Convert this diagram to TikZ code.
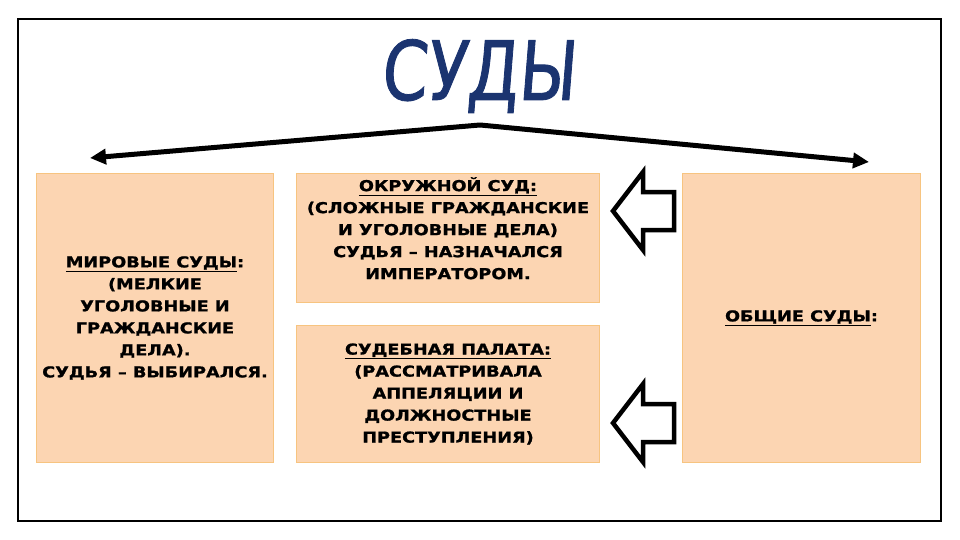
\documentclass[tikz,border=0pt]{standalone}
\usepackage{fontspec}
\setmainfont{DejaVu Sans}
\newfontfamily\boxfont[FakeStretch=1.18,BoldFeatures={FakeBold=1.2}]{DejaVu Sans}
\newfontfamily\titlefont[FakeStretch=0.8,FakeSlant=0.08,FakeBold=1]{DejaVu Sans}
\usetikzlibrary{arrows.meta,positioning}
\definecolor{peach}{RGB}{252,213,178}
\definecolor{peachline}{RGB}{247,196,128}
\definecolor{titleblue}{RGB}{27,52,112}
\tikzset{
  courtbox/.style={draw=peachline, fill=peach, line width=1pt, inner sep=0pt, anchor=north west},
  courttext/.style={align=center, font=\boxfont\bfseries\fontsize{15}{22}\selectfont, inner sep=0pt},
  branch/.style={line width=5pt, -{Triangle[length=16pt,width=15pt]}},
  hollowarrow/.style={draw=black, fill=white, line width=4.5pt, line join=miter}
}
\begin{document}
\begin{tikzpicture}[x=1pt, y=-1pt]
  \useasboundingbox (0,0) rectangle (960,540);
  \draw [line width=1.5pt] (18,19) rectangle (941,521);

  % title and the two branches
  \node [font=\titlefont\fontsize{82}{82}\selectfont, text=titleblue, anchor=base, inner sep=0pt] (title) at (478,100) {СУДЫ};
  \coordinate (peak) at (480,125);
  \coordinate (lend) at (90,158);
  \coordinate (rend) at (869,162);
  \draw [branch] (peak) -- (lend);
  \draw [branch] (peak) -- (rend);

  % boxes
  \node [courtbox, minimum width=237, minimum height=289] (mirovye) at (36,173) {};
  \node [courtbox, minimum width=303, minimum height=129] (okrug) at (296,173) {};
  \node [courtbox, minimum width=303, minimum height=137] (palata) at (296,325) {};
  \node [courtbox, minimum width=238, minimum height=289] (obshchie) at (682,173) {};

  \node [courttext] (mirtext) at (mirovye.center) {\underline{МИРОВЫЕ СУДЫ}:\\(МЕЛКИЕ\\УГОЛОВНЫЕ И\\ГРАЖДАНСКИЕ\\ДЕЛА).\\СУДЬЯ – ВЫБИРАЛСЯ.};
  \node [courttext, anchor=north, below=4pt of okrug.north] (okrtext) {\underline{ОКРУЖНОЙ СУД:}\\(СЛОЖНЫЕ ГРАЖДАНСКИЕ\\И УГОЛОВНЫЕ ДЕЛА)\\СУДЬЯ – НАЗНАЧАЛСЯ\\ИМПЕРАТОРОМ.};
  \node [courttext] (paltext) at (palata.center) {\underline{СУДЕБНАЯ ПАЛАТА:}\\(РАССМАТРИВАЛА\\АППЕЛЯЦИИ И\\ДОЛЖНОСТНЫЕ\\ПРЕСТУПЛЕНИЯ)};
  \node [courttext] (obtext) at (obshchie.center) {\underline{ОБЩИЕ СУДЫ}:};

  % hollow arrows
  \coordinate (tipA) at (613,211);
  \coordinate (tipB) at (613,423);
  \draw [hollowarrow] (tipA) -- ++(30,-39) -- ++(0,20) -- ++(31,0) -- ++(0,38) -- ++(-31,0) -- ++(0,20) -- cycle;
  \draw [hollowarrow] (tipB) -- ++(30,-39) -- ++(0,20) -- ++(31,0) -- ++(0,38) -- ++(-31,0) -- ++(0,20) -- cycle;
\end{tikzpicture}
\end{document}
